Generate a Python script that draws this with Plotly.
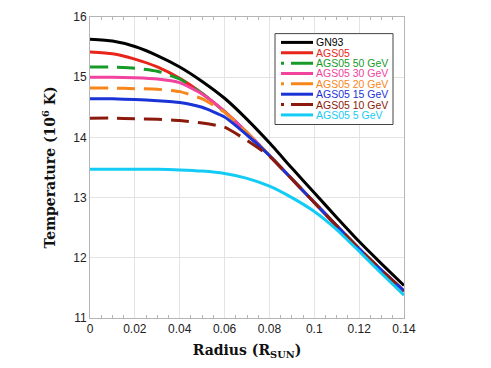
import plotly.graph_objects as go

radius = [0.00, 0.01, 0.02, 0.03, 0.04, 0.05, 0.06, 0.07, 0.08, 0.09, 0.10, 0.11, 0.12, 0.13, 0.14]

gn93 = [15.63, 15.60, 15.51, 15.36, 15.17, 14.93, 14.65, 14.30, 13.91, 13.49, 13.08, 12.67, 12.27, 11.90, 11.54]
ags05 = [15.42, 15.39, 15.30, 15.17, 14.98, 14.73, 14.43, 14.08, 13.70, 13.31, 12.92, 12.53, 12.15, 11.79, 11.45]
ags05_50 = [15.17, 15.17, 15.15, 15.10, 14.97, 14.73, 14.43, 14.08, 13.70, 13.31, 12.92, 12.53, 12.15, 11.79, 11.45]
ags05_30 = [15.00, 15.00, 14.99, 14.97, 14.91, 14.72, 14.43, 14.08, 13.70, 13.31, 12.92, 12.53, 12.15, 11.79, 11.45]
ags05_20 = [14.82, 14.82, 14.81, 14.80, 14.76, 14.64, 14.42, 14.08, 13.70, 13.31, 12.92, 12.53, 12.15, 11.79, 11.45]
ags05_15 = [14.64, 14.64, 14.63, 14.61, 14.58, 14.50, 14.34, 14.04, 13.70, 13.31, 12.92, 12.53, 12.15, 11.79, 11.45]
ags05_10 = [14.32, 14.32, 14.31, 14.30, 14.28, 14.24, 14.17, 13.95, 13.69, 13.31, 12.92, 12.53, 12.15, 11.79, 11.45]
ags05_5 = [13.47, 13.47, 13.47, 13.47, 13.46, 13.44, 13.40, 13.32, 13.19, 13.00, 12.77, 12.47, 12.11, 11.74, 11.38]

series = [
    ("GN93", gn93, "#000000", False),
    ("AGS05", ags05, "#e8251a", False),
    ("AGS05 50 GeV", ags05_50, "#169a28", True),
    ("AGS05 30 GeV", ags05_30, "#f2439e", False),
    ("AGS05 20 GeV", ags05_20, "#f7861c", True),
    ("AGS05 15 GeV", ags05_15, "#1a33d6", False),
    ("AGS05 10 GeV", ags05_10, "#8b1a0c", True),
    ("AGS05 5 GeV", ags05_5, "#13ccf5", False),
]

# plot area in pixels, used to place the hand-drawn legend box
L, R, T, B = 90, 404, 10, 318
px = lambda x: (x - L) / (R - L)
py = lambda y: (B - y) / (B - T)

fig = go.Figure()
for name, vals, col, dashed in series:
    fig.add_trace(go.Scatter(
        x=radius, y=vals, mode="lines", name=name,
        line=dict(color=col, width=3, dash="18px,9px" if dashed else "solid",
                  shape="spline", smoothing=0.5),
    ))

# legend (the native one has too tall rows)
fig.add_shape(type="rect", xref="paper", yref="paper",
              x0=px(275), x1=px(393), y0=py(120), y1=py(27),
              line=dict(color="#444", width=1), fillcolor="white", layer="above")
for i, (name, vals, col, dashed) in enumerate(series):
    yy = py(36 + i * 10.6)
    fig.add_shape(type="line", xref="paper", yref="paper",
                  x0=px(281), x1=px(313), y0=yy, y1=yy, layer="above",
                  line=dict(color=col, width=3, dash="3px,7px,30px" if dashed else "solid"))
    fig.add_annotation(x=px(315), y=yy, xref="paper", yref="paper", text=name,
                       showarrow=False, xanchor="left", yanchor="middle", borderpad=0,
                       font=dict(family="Liberation Sans, Arial", size=10.5, color=col))

fig.update_layout(
    width=491, height=368,
    margin=dict(l=L, r=491 - R, t=T, b=368 - B),
    paper_bgcolor="white", plot_bgcolor="white",
    font=dict(family="Liberation Sans, Arial", size=12, color="#222"),
    showlegend=False,
)
fig.update_xaxes(
    range=[0, 0.14], dtick=0.02, tickformat="~g",
    showgrid=True, gridcolor="#e3e3e3", gridwidth=1,
    showline=True, linecolor="#b5b5b5", linewidth=1, mirror="ticks",
    ticks="", zeroline=False,
    minor=dict(dtick=0.005, ticks="inside", ticklen=3, tickcolor="#b5b5b5", showgrid=False),
    title=dict(text="<b>Radius (R<sub>SUN</sub>)</b>",
               font=dict(family="DejaVu Serif", size=14, color="#111"), standoff=9),
)
fig.update_yaxes(
    range=[11, 16], dtick=1,
    showgrid=True, gridcolor="#e3e3e3", gridwidth=1,
    showline=True, linecolor="#b5b5b5", linewidth=1, mirror=True,
    ticks="", zeroline=False,
    title=dict(text="<b>Temperature (10<sup>6</sup> K)</b>",
               font=dict(family="DejaVu Serif", size=14, color="#111"), standoff=14),
)

fig.write_html("out.html", config={"displayModeBar": False},
               post_script="document.body.style.margin='0';")
